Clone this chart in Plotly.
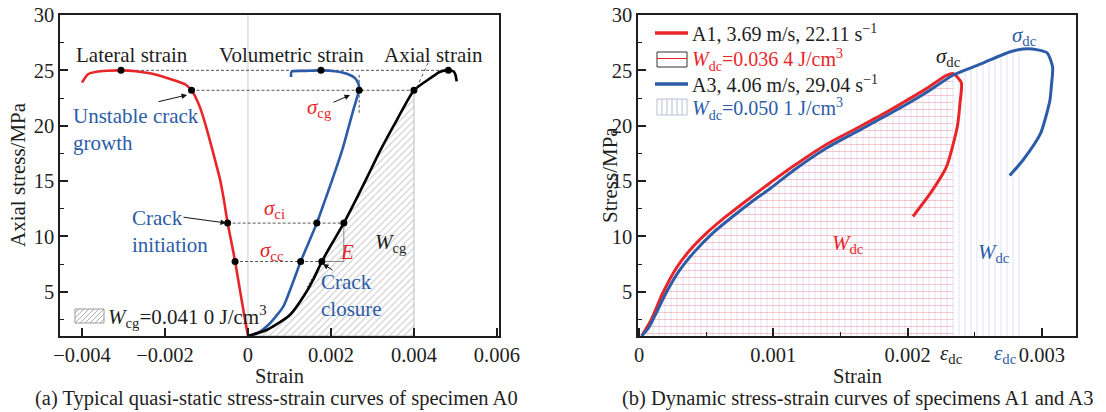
import plotly.graph_objects as go

W, H = 1106, 412
FONT = "Liberation Serif, Times New Roman, serif"
RED = "#E8262A"
BLUE = "#2C5CA8"
INK = "#1e1e1e"

# ---------------- (a) quasi-static, specimen A0 ----------------
lat_strain = [0, -0.0001, -0.0002, -0.00031, -0.0004, -0.00049, -0.00058, -0.00067, -0.0008,
              -0.00092, -0.00104, -0.00116, -0.00136, -0.0015, -0.0018, -0.0021, -0.00236,
              -0.0027, -0.00306, -0.0034, -0.00365, -0.00385, -0.004]
lat_stress = [1.0, 3.1, 5.3, 7.73, 9.5, 11.2, 13.3, 15.1, 17.0, 18.7, 20.3, 21.7, 23.2, 23.7,
              24.13, 24.5, 24.73, 24.92, 25.0, 24.96, 24.88, 24.67, 23.9]

vol_strain = [0, 0.00029, 0.00053, 0.00085, 0.00109, 0.00127, 0.00147, 0.00166, 0.00186,
              0.00203, 0.00228, 0.00253, 0.00268, 0.00266, 0.00258, 0.0024, 0.0021, 0.00176,
              0.0014, 0.00105, 0.00104]
vol_stress = [1.0, 1.4, 2.15, 3.65, 5.9, 7.73, 9.5, 11.2, 13.3, 15.1, 17.9, 21.3, 23.3, 23.8,
              24.3, 24.67, 24.92, 25.0, 24.95, 24.88, 24.4]

ax_strain = [0, 0.00045, 0.00101, 0.00141, 0.0016, 0.00178, 0.002, 0.00231, 0.0026, 0.0029,
             0.00318, 0.0036, 0.004, 0.00439, 0.00463, 0.00483, 0.00496, 0.005, 0.00503]
ax_stress = [1.0, 1.54, 2.9, 5.0, 6.3, 7.73, 9.2, 11.2, 13.3, 15.55, 17.7, 20.6, 23.2, 24.28,
             24.88, 25.0, 24.9, 24.6, 24.0]

# characteristic stresses: peak, sigma_cg, sigma_ci, sigma_cc
key_stress = [25.0, 23.2, 11.2, 7.73]
lat_key = [-0.00306, -0.00136, -0.00049, -0.00031]
vol_key = [0.00176, 0.00268, 0.00166, 0.00127]
ax_key = [0.00483, 0.004, 0.00231, 0.00178]
W_cg_label = "<i>W</i><sub>cg</sub>=0.041 0 J/cm<sup>3</sup>"

# ---------------- (b) dynamic, specimens A1 and A3 ----------------
a1_strain = [0.00002, 0.00009, 0.000176, 0.000276, 0.000375, 0.000499, 0.000648, 0.000797,
             0.00095, 0.00115, 0.0014, 0.00165, 0.00184, 0.00197, 0.00214, 0.00229, 0.00234,
             0.0024, 0.00239, 0.00237, 0.00229, 0.00217, 0.00204]
a1_stress = [1.0, 2.45, 4.86, 7.1, 8.7, 10.25, 11.8, 13.2, 14.6, 16.35, 18.35, 19.95, 21.2,
             22.12, 23.35, 24.55, 24.7, 23.9, 22.0, 19.9, 16.3, 13.9, 11.8]
a1_peak = 16

a3_strain = [0.00002, 0.000077, 0.000127, 0.0002, 0.0003, 0.000412, 0.000549, 0.000698,
             0.000847, 0.00098, 0.00115, 0.0014, 0.00165, 0.0019, 0.00214, 0.00234, 0.00256,
             0.00276, 0.00286, 0.00297, 0.00304, 0.00308, 0.00307, 0.00306, 0.00299, 0.00286,
             0.00276]
a3_stress = [1.0, 1.84, 3.05, 4.86, 6.9, 8.6, 10.3, 11.8, 13.2, 14.35, 15.95, 18.0, 19.65,
             21.3, 23.0, 24.58, 25.66, 26.66, 26.93, 26.85, 26.57, 25.3, 23.5, 22.3, 19.3, 16.9,
             15.5]
a3_peak = 18

a1_label = "A1, 3.69 m/s, 22.11 s<sup>−1</sup>"
a3_label = "A3, 4.06 m/s, 29.04 s<sup>−1</sup>"
w1_label = "<i>W</i><sub>dc</sub>=0.036 4 J/cm<sup>3</sup>"
w3_label = "<i>W</i><sub>dc</sub>=0.050 1 J/cm<sup>3</sup>"

YMIN, YMAX = 1.0, 30.0

fig = go.Figure()

# ---- right panel fills ----
fig.add_trace(go.Scatter(
    x=a3_strain[:a3_peak + 1], y=a3_stress[:a3_peak + 1], xaxis="x2", yaxis="y2",
    mode="lines", line=dict(width=0), fill="tozeroy", fillcolor="rgba(0,0,0,0)",
    fillpattern=dict(shape="|", fgcolor="rgba(80,80,200,0.40)", size=6, solidity=0.15),
    showlegend=False, hoverinfo="skip"))
fig.add_trace(go.Scatter(
    x=a1_strain[:a1_peak + 1], y=a1_stress[:a1_peak + 1], xaxis="x2", yaxis="y2",
    mode="lines", line=dict(width=0), fill="tozeroy", fillcolor="rgba(0,0,0,0)",
    fillpattern=dict(shape="-", fgcolor="rgba(235,50,60,0.55)", size=7, solidity=0.14),
    showlegend=False, hoverinfo="skip"))

# ---- left panel hatched area ----
cut = [i for i, s in enumerate(ax_strain) if s <= ax_key[1]]
hx = [ax_strain[i] for i in cut] + [ax_key[1], 0]
hy = [ax_stress[i] for i in cut] + [YMIN, YMIN]
fig.add_trace(go.Scatter(
    x=hx, y=hy, xaxis="x", yaxis="y", mode="lines", fill="toself",
    line=dict(width=1, color="#bdbdbd"), fillcolor="rgba(0,0,0,0)",
    fillpattern=dict(shape="/", fgcolor="#8c8c8c", size=5, solidity=0.2),
    showlegend=False, hoverinfo="skip"))

# ---- dotted guide lines (left) ----
GUIDE = dict(color="#555", width=1, dash="3px,2px")
for s, xl, xa in zip(key_stress, lat_key, ax_key):
    fig.add_trace(go.Scatter(x=[xl, xa], y=[s, s], mode="lines", xaxis="x", yaxis="y",
                             line=GUIDE, showlegend=False, hoverinfo="skip"))
fig.add_trace(go.Scatter(x=[vol_key[1], vol_key[1]], y=[24.6, 21.0], mode="lines",
                         line=GUIDE, showlegend=False, hoverinfo="skip"))
# E triangle
slopeE = (key_stress[2] - key_stress[3]) / (ax_key[2] - ax_key[3])
fig.add_trace(go.Scatter(x=[ax_key[3], ax_key[2], ax_key[2]],
                         y=[key_stress[3], key_stress[3], key_stress[2]], mode="lines",
                         line=dict(color="#888", width=1), showlegend=False, hoverinfo="skip"))
fig.add_trace(go.Scatter(x=[ax_key[3], ax_key[3] - 2.3 / slopeE], y=[key_stress[3], key_stress[3] - 2.3],
                         mode="lines", line=dict(color="#555", width=1, dash="2px,2px"),
                         showlegend=False, hoverinfo="skip"))

# ---- curves ----
SM = 0.6
fig.add_trace(go.Scatter(x=lat_strain, y=lat_stress, mode="lines",
                         line=dict(color=RED, width=2.6, shape="spline", smoothing=SM), showlegend=False))
fig.add_trace(go.Scatter(x=vol_strain, y=vol_stress, mode="lines",
                         line=dict(color=BLUE, width=2.6, shape="spline", smoothing=SM), showlegend=False))
fig.add_trace(go.Scatter(x=ax_strain, y=ax_stress, mode="lines",
                         line=dict(color="#000", width=2.6, shape="spline", smoothing=SM), showlegend=False))
fig.add_trace(go.Scatter(x=lat_key + vol_key + ax_key, y=key_stress * 3, mode="markers",
                         marker=dict(color="#000", size=7), showlegend=False))

fig.add_trace(go.Scatter(x=a1_strain, y=a1_stress, xaxis="x2", yaxis="y2", mode="lines",
                         line=dict(color=RED, width=3, shape="spline", smoothing=SM), showlegend=False))
fig.add_trace(go.Scatter(x=a3_strain, y=a3_stress, xaxis="x2", yaxis="y2", mode="lines",
                         line=dict(color=BLUE, width=3, shape="spline", smoothing=SM), showlegend=False))

# ---------------- annotations ----------------
ann = []
shapes = []


def P(px, py):
    return px / W, 1 - py / H


def text(t, px, py, color=INK, size=21, xanchor="center", align="center"):
    x, y = P(px, py)
    ann.append(dict(text=t, x=x, y=y, xref="paper", yref="paper", showarrow=False,
                    xanchor=xanchor, yanchor="middle", align=align,
                    font=dict(family=FONT, size=size, color=color)))


def arrow(hx_, hy_, tx, ty):
    x, y = P(hx_, hy_)
    ann.append(dict(text="", x=x, y=y, xref="paper", yref="paper", showarrow=True,
                    ax=tx - hx_, ay=ty - hy_, arrowhead=2, arrowsize=1.1, arrowwidth=1,
                    arrowcolor="#111"))


def seg(x0, y0, x1, y1, color, width=1, dash="solid"):
    a, b = P(x0, y0)
    c, d = P(x1, y1)
    shapes.append(dict(type="line", xref="paper", yref="paper", x0=a, y0=b, x1=c, y1=d,
                       line=dict(color=color, width=width, dash=dash)))


def box(x0, y0, x1, y1, color, width=1):
    a, b = P(x0, y0)
    c, d = P(x1, y1)
    shapes.append(dict(type="rect", xref="paper", yref="paper", x0=a, y0=b, x1=c, y1=d,
                       line=dict(color=color, width=width), fillcolor="rgba(0,0,0,0)"))


text("Lateral strain", 132, 55)
text("Volumetric strain", 291, 55)
text("Axial strain", 433, 55)
text("Unstable crack<br>growth", 71, 129, color=BLUE, xanchor="left", align="left")
text("Crack<br>initiation", 130, 231, color=BLUE, xanchor="left", align="left")
text("Crack<br>closure", 319, 295, color=BLUE, xanchor="left", align="left")
text("<i>σ</i><sub>cg</sub>", 319, 108, color=RED)
text("<i>σ</i><sub>ci</sub>", 274, 209, color=RED)
text("<i>σ</i><sub>cc</sub>", 272, 251, color=RED)
text("<i>E</i>", 347, 252, color=RED)
text("<i>W</i><sub>cg</sub>", 391, 243)
arrow(187, 95, 157, 102)
arrow(226, 223, 182, 217)
arrow(350, 95, 332, 103)
arrow(323, 264, 334, 271)
seg(428, 63, 416, 89, "#555", 1, "dot")

# left legend (hatched swatch)
lx0, ly0, lx1, ly1 = 75, 309, 104, 323
box(lx0, ly0, lx1, ly1, "#9a9a9a")
k = lx0 + ly0 + 4
while k < lx1 + ly1:
    xa = max(lx0, k - ly1)
    xb = min(lx1, k - ly0)
    if xb > xa:
        seg(xa, k - xa, xb, k - xb, "#9a9a9a", 0.8)
    k += 5
text(W_cg_label, 106, 316, xanchor="left", align="left")

# right legend
LS = 20
seg(655, 33, 688, 33, RED, 3.5)
text(a1_label, 690, 33, size=LS, xanchor="left", align="left")
box(657, 52, 687, 67, "#333")
seg(657, 58.5, 687, 58.5, RED, 1)
text(w1_label, 690, 60, color=RED, size=LS, xanchor="left", align="left")
seg(655, 84, 688, 84, BLUE, 3.5)
text(a3_label, 690, 84, size=LS, xanchor="left", align="left")
box(657, 99, 687, 115, "#b9bfd6")
for vx in range(662, 687, 5):
    seg(vx, 99, vx, 115, "#b9bfd6", 1)
text(w3_label, 690, 109, color=BLUE, size=LS, xanchor="left", align="left")

text("Axial stress/MPa", 18, 175)
ann[-1]["textangle"] = -90
text("Stress/MPa", 610, 175)
ann[-1]["textangle"] = -90
text("Strain", 279, 376, size=20.5)
text("Strain", 857, 376, size=20.5)
text("(a) Typical quasi-static stress-strain curves of specimen A0", 276, 398, size=20.5)
text("(b) Dynamic stress-strain curves of specimens A1 and A3", 857, 398, size=20.5)

text("<i>σ</i><sub>dc</sub>", 948, 57)
text("<i>σ</i><sub>dc</sub>", 1024, 36, color=BLUE)
text("<i>W</i><sub>dc</sub>", 848, 244, color=RED)
text("<i>W</i><sub>dc</sub>", 994, 253, color=BLUE)
text("<i>ε</i><sub>dc</sub>", 951, 354)
text("<i>ε</i><sub>dc</sub>", 1005, 354, color=BLUE)

shapes.append(dict(type="line", xref="x", yref="paper", x0=0, x1=0, y0=1 - 336 / H, y1=1 - 15 / H,
                   line=dict(color="#cfcfcf", width=1), layer="below"))

axis_common = dict(showline=True, linecolor=INK, linewidth=1.5, mirror=True, ticks="inside",
                   tickcolor=INK, tickwidth=1.5, ticklen=8, showgrid=False, zeroline=False,
                   automargin=False, tickfont=dict(family=FONT, size=20.5, color=INK))
MINOR = dict(ticks="inside", ticklen=4, tickcolor=INK, tickwidth=1.2)

fig.update_layout(
    width=W, height=H, autosize=False,
    margin=dict(l=0, r=0, t=0, b=0, pad=0, autoexpand=False),
    paper_bgcolor="white", plot_bgcolor="white", showlegend=False,
    font=dict(family=FONT, size=20, color=INK),
    xaxis=dict(domain=[60 / W, 499 / W], range=[-0.00453, 0.00605], anchor="y",
               tickmode="array", tickvals=[-0.004, -0.002, 0, 0.002, 0.004, 0.006],
               ticktext=["−0.004", "−0.002", "0", "0.002", "0.004", "0.006"], **axis_common),
    yaxis=dict(domain=[1 - 336 / H, 1 - 15 / H], range=[YMIN, YMAX], anchor="x",
               tickmode="linear", tick0=0, dtick=5, minor=dict(dtick=2.5, tick0=0, **MINOR),
               **axis_common),
    xaxis2=dict(domain=[638 / W, 1076 / W], range=[-0.0000075, 0.003254], anchor="y2",
                tickmode="array", tickvals=[0, 0.001, 0.002, 0.003],
                ticktext=["0", "0.001", "0.002", "0.003"],
                minor=dict(dtick=0.0005, tick0=0, **MINOR), **axis_common),
    yaxis2=dict(domain=[1 - 336 / H, 1 - 15 / H], range=[YMIN, YMAX], anchor="x2",
                tickmode="linear", tick0=0, dtick=5, minor=dict(dtick=2.5, tick0=0, **MINOR),
                **axis_common),
    annotations=ann, shapes=shapes,
)

fig.write_html("out.html")
